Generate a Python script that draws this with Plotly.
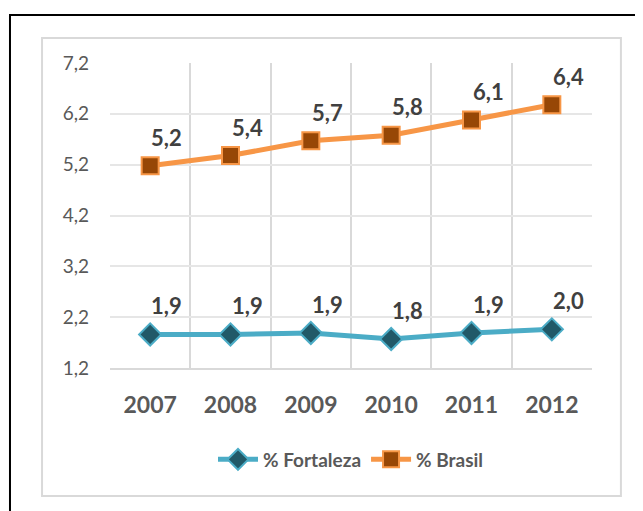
import plotly.graph_objects as go

years = ["2007", "2008", "2009", "2010", "2011", "2012"]
fortaleza = [1.86, 1.86, 1.89, 1.77, 1.89, 1.96]
brasil = [5.18, 5.38, 5.67, 5.78, 6.08, 6.38]
y_ticks = [1.2, 2.2, 3.2, 4.2, 5.2, 6.2, 7.2]

FONT = "Lato, 'Open Sans', sans-serif"

fig = go.Figure()
fig.add_trace(go.Scatter(
    x=years, y=fortaleza, name="% Fortaleza", mode="lines+markers",
    line=dict(color="#4BACC6", width=5),
    marker=dict(symbol="diamond", size=17, color="#215968",
                line=dict(color="#4BACC6", width=2)),
))
fig.add_trace(go.Scatter(
    x=years, y=brasil, name="% Brasil", mode="lines+markers",
    line=dict(color="#F79646", width=5),
    marker=dict(symbol="square", size=17, color="#974706",
                line=dict(color="#F79646", width=2)),
))

annotations = []
for series in (fortaleza, brasil):
    for i, v in enumerate(series):
        annotations.append(dict(
            x=i, y=v, xref="x", yref="y", text=f"<b>{v:.1f}</b>".replace(".", ","),
            showarrow=False, xanchor="left", yanchor="bottom",
            xshift=-1, yshift=13,
            font=dict(family=FONT, size=22, color="#404040"),
        ))

fig.update_layout(
    width=635, height=503,
    margin=dict(l=102, r=51, t=55, b=143),
    paper_bgcolor="white", plot_bgcolor="white",
    separators=", ",
    font=dict(family=FONT, color="#595959"),
    showlegend=True,
    legend=dict(orientation="h", x=0.5, xanchor="center", y=-0.30, yanchor="middle",
                font=dict(family=FONT, size=19, color="#595959", weight="bold"),
                itemwidth=40, traceorder="normal"),
    xaxis=dict(type="category", tickson="boundaries", showgrid=True,
               gridcolor="#d9d9d9", gridwidth=1.5, ticks="", showline=True,
               linecolor="#d9d9d9", linewidth=2, mirror=False,
               tickfont=dict(family=FONT, size=23, color="#595959", weight="bold"),
               ticklabelstandoff=15, range=[-0.5, 5.5]),
    yaxis=dict(range=[1.2, 7.2], tickvals=y_ticks, tickformat=".1f",
               showgrid=True, gridcolor="#e6e6e6", gridwidth=1.5, zeroline=False,
               showline=False, ticks="",
               tickfont=dict(family=FONT, size=19, color="#595959"),
               ticklabelstandoff=20),
    annotations=annotations,
    shapes=[
        dict(type="rect", xref="paper", yref="paper", x0=-0.141, x1=1.060,
             y0=-0.4197, y1=1.082, line=dict(color="#d9d9d9", width=2),
             fillcolor="rgba(0,0,0,0)", layer="below"),
        dict(type="rect", xref="paper", yref="paper", x0=-0.2075, x1=1.3,
             y0=-0.7, y1=1.157, line=dict(color="black", width=2),
             fillcolor="rgba(0,0,0,0)", layer="below"),
    ],
)

fig.write_html("out.html", config={"displayModeBar": False})
